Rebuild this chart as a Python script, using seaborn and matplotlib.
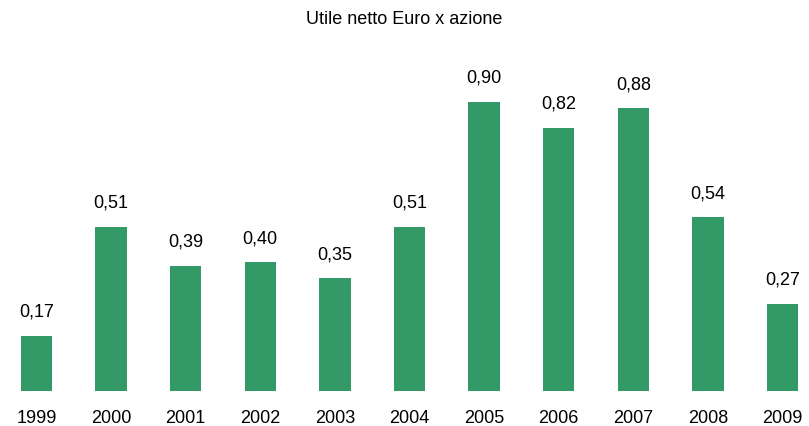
import pandas as pd
import matplotlib
matplotlib.use("Agg")
import matplotlib.pyplot as plt
import seaborn as sns

# Utile netto per azione (Euro)
years = ["1999", "2000", "2001", "2002", "2003", "2004", "2005", "2006", "2007", "2008", "2009"]
eps = [0.17, 0.51, 0.39, 0.40, 0.35, 0.51, 0.90, 0.82, 0.88, 0.54, 0.27]
title = "Utile netto Euro x azione"

sns.set_style("white")
plt.rcParams['font.family'] = ['Liberation Sans', 'DejaVu Sans']

df = pd.DataFrame({"anno": years, "utile": eps})

fig = plt.figure(figsize=(8.09, 4.26), dpi=100)
ax = fig.add_axes([0, 0.083, 1, 0.763])

sns.barplot(data=df, x="anno", y="utile", color="#339966", saturation=1,
            width=0.42, linewidth=0, ax=ax)

# etichette sopra le barre, con la virgola decimale
for i, v in enumerate(eps):
    ax.annotate(f"{v:.2f}".replace(".", ","), (i, v), xytext=(0, 11),
                textcoords="offset points", ha="center", va="bottom",
                fontsize=13, color="black")

ax.set_xlim(-0.489, 10.355)
ax.set_ylim(0, 1.013)
ax.set_xlabel("")
ax.set_ylabel("")
ax.set_yticks([])
ax.tick_params(axis="x", length=0, pad=14, labelsize=13, colors="black")
for s in ax.spines.values():
    s.set_visible(False)

fig.text(0.5, 1 - 20 / 426, title, ha="center", va="center", fontsize=13,
         color="black")

fig.savefig("out.png", dpi=100)
